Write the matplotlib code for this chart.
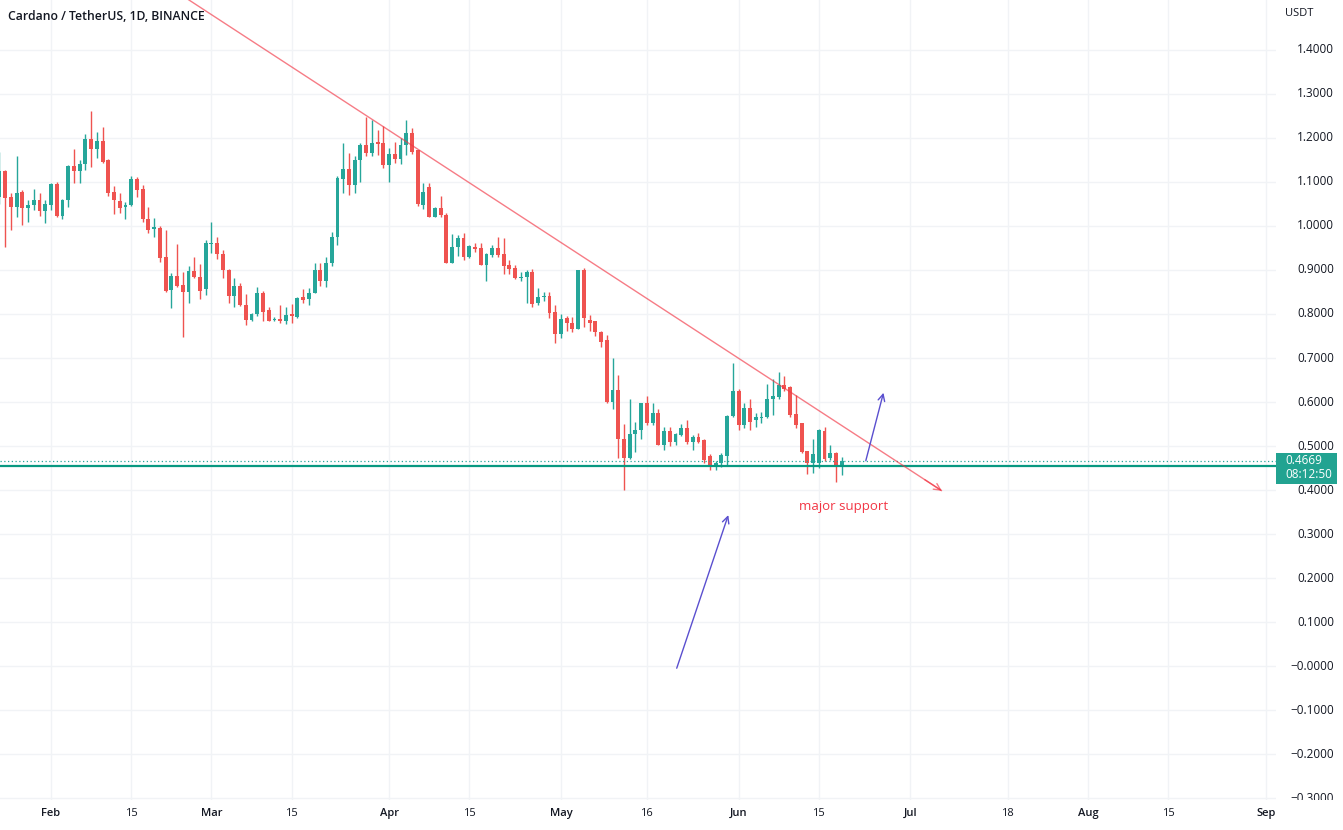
import matplotlib
matplotlib.use("Agg")
import matplotlib.pyplot as plt
import matplotlib.dates as mdates
from matplotlib.patches import Rectangle
from matplotlib.transforms import Bbox, TransformedBbox
import numpy as np
import pandas as pd

plt.rcParams['font.family'] = ['Open Sans', 'DejaVu Sans']

# ---------------- data (ADA/USDT daily) ----------------
start_date = "2022-01-23"
end_date = "2022-06-19"

opens = [
    # Jan 23-31
    1.067, 1.124, 1.067, 1.043, 1.078, 1.040, 1.048, 1.059, 1.033,
    # Feb
    1.048, 1.095, 1.023, 1.058, 1.136, 1.124, 1.141, 1.197, 1.174, 1.193,
    1.150, 1.078, 1.057, 1.043, 1.048, 1.106, 1.083, 1.017, 0.994, 0.996,
    0.930, 0.855, 0.886, 0.866, 0.849, 0.898, 0.883, 0.856,
    # Mar
    0.959, 0.962, 0.936, 0.900, 0.841, 0.864, 0.820, 0.786, 0.799, 0.848,
    0.810, 0.786, 0.788, 0.785, 0.801, 0.794, 0.839, 0.833, 0.848, 0.900,
    0.874, 0.915, 0.974, 1.106, 1.129, 1.093, 1.150, 1.184, 1.167, 1.191, 1.188,
    # Apr
    1.139, 1.164, 1.152, 1.184, 1.211, 1.172, 1.048, 1.088, 1.021, 1.042,
    1.025, 0.917, 0.952, 0.972, 0.930, 0.953, 0.949, 0.911, 0.934, 0.949,
    0.936, 0.911, 0.904, 0.882, 0.884, 0.896, 0.824, 0.838, 0.841, 0.805,
    # May
    0.755, 0.790, 0.780, 0.767, 0.899, 0.786, 0.783, 0.760, 0.741, 0.599,
    0.627, 0.515, 0.472, 0.527, 0.536, 0.597, 0.552, 0.576, 0.502, 0.533,
    0.510, 0.525, 0.540, 0.510, 0.520, 0.514, 0.477, 0.454, 0.461, 0.477, 0.568,
    # Jun 1-19
    0.626, 0.548, 0.586, 0.559, 0.563, 0.565, 0.606, 0.612, 0.639, 0.633,
    0.573, 0.553, 0.489, 0.461, 0.461, 0.535, 0.472, 0.485, 0.455,
]

highs = [
    1.169, 1.127, 1.074, 1.158, 1.082, 1.059, 1.083, 1.074, 1.059,
    1.098, 1.101, 1.061, 1.139, 1.176, 1.150, 1.209, 1.262, 1.213, 1.224,
    1.152, 1.091, 1.074, 1.055, 1.114, 1.112, 1.093, 1.044, 1.019, 1.000,
    0.991, 0.894, 0.959, 0.896, 0.909, 0.929, 0.914, 0.968,
    1.010, 0.976, 0.946, 0.902, 0.881, 0.871, 0.845, 0.802, 0.862, 0.853,
    0.817, 0.794, 0.820, 0.817, 0.823, 0.839, 0.856, 0.858, 0.917, 0.915,
    0.929, 0.987, 1.114, 1.189, 1.165, 1.158, 1.188, 1.247, 1.242, 1.218, 1.227,
    1.177, 1.192, 1.199, 1.242, 1.222, 1.172, 1.098, 1.098, 1.044, 1.068,
    1.030, 0.982, 0.980, 0.983, 0.957, 0.961, 0.962, 0.939, 0.957, 0.974,
    0.972, 0.923, 0.911, 0.896, 0.900, 0.902, 0.858, 0.851, 0.849, 0.820,
    0.800, 0.795, 0.794, 0.899, 0.904, 0.798, 0.785, 0.762, 0.752, 0.699,
    0.661, 0.551, 0.606, 0.555, 0.598, 0.614, 0.597, 0.583, 0.544, 0.543,
    0.530, 0.550, 0.559, 0.525, 0.530, 0.515, 0.482, 0.466, 0.483, 0.570, 0.689,
    0.629, 0.598, 0.606, 0.576, 0.578, 0.642, 0.652, 0.669, 0.658, 0.636,
    0.616, 0.553, 0.489, 0.517, 0.538, 0.544, 0.502, 0.487, 0.474,
]

lows = [
    1.050, 0.953, 0.991, 1.021, 1.002, 1.008, 1.036, 1.023, 1.006,
    1.036, 1.021, 1.017, 1.044, 1.097, 1.097, 1.127, 1.133, 1.154, 1.144,
    1.068, 1.027, 1.029, 1.017, 1.046, 1.067, 1.010, 0.983, 0.974, 0.919,
    0.849, 0.813, 0.862, 0.747, 0.824, 0.881, 0.833, 0.843,
    0.938, 0.926, 0.881, 0.824, 0.817, 0.818, 0.775, 0.783, 0.795, 0.785,
    0.783, 0.785, 0.779, 0.777, 0.780, 0.790, 0.824, 0.820, 0.847, 0.864,
    0.862, 0.909, 0.957, 1.076, 1.070, 1.076, 1.101, 1.158, 1.158, 1.161, 1.131,
    1.101, 1.144, 1.142, 1.161, 1.164, 1.045, 1.038, 1.020, 1.020, 1.021,
    0.915, 0.915, 0.932, 0.923, 0.927, 0.940, 0.911, 0.874, 0.929, 0.929,
    0.891, 0.892, 0.879, 0.876, 0.826, 0.815, 0.821, 0.830, 0.790, 0.735,
    0.745, 0.762, 0.760, 0.765, 0.771, 0.762, 0.749, 0.726, 0.597, 0.583,
    0.472, 0.400, 0.470, 0.487, 0.515, 0.548, 0.548, 0.502, 0.491, 0.500,
    0.502, 0.523, 0.505, 0.491, 0.506, 0.461, 0.446, 0.446, 0.452, 0.455, 0.567,
    0.536, 0.540, 0.536, 0.544, 0.553, 0.563, 0.570, 0.606, 0.626, 0.567,
    0.540, 0.483, 0.436, 0.438, 0.449, 0.467, 0.468, 0.419, 0.434,
]

closes = [
    1.124, 1.063, 1.043, 1.074, 1.040, 1.048, 1.059, 1.033, 1.050,
    1.095, 1.023, 1.059, 1.136, 1.124, 1.142, 1.197, 1.174, 1.193, 1.146,
    1.076, 1.058, 1.040, 1.048, 1.106, 1.082, 1.017, 0.992, 0.997, 0.928,
    0.852, 0.886, 0.864, 0.851, 0.898, 0.883, 0.853, 0.962,
    0.962, 0.936, 0.900, 0.841, 0.864, 0.820, 0.786, 0.799, 0.847, 0.805,
    0.785, 0.788, 0.783, 0.798, 0.795, 0.836, 0.832, 0.848, 0.901, 0.874,
    0.917, 0.974, 1.108, 1.129, 1.093, 1.151, 1.184, 1.167, 1.189, 1.186, 1.139,
    1.164, 1.152, 1.184, 1.211, 1.169, 1.049, 1.078, 1.021, 1.042, 1.024,
    0.917, 0.953, 0.972, 0.929, 0.955, 0.947, 0.911, 0.936, 0.949, 0.934,
    0.908, 0.902, 0.881, 0.884, 0.896, 0.823, 0.838, 0.841, 0.803, 0.755,
    0.788, 0.779, 0.767, 0.899, 0.792, 0.780, 0.758, 0.737, 0.599, 0.627,
    0.517, 0.472, 0.527, 0.536, 0.597, 0.552, 0.576, 0.502, 0.533, 0.510,
    0.527, 0.540, 0.508, 0.521, 0.510, 0.468, 0.455, 0.462, 0.480, 0.568, 0.626,
    0.548, 0.586, 0.555, 0.567, 0.566, 0.606, 0.614, 0.639, 0.629, 0.570,
    0.548, 0.487, 0.461, 0.482, 0.536, 0.470, 0.485, 0.453, 0.4669,
]

last_price = 0.4669
countdown = "08:12:50"
support_level = 0.454

price_ticks = [1.4, 1.3, 1.2, 1.1, 1.0, 0.9, 0.8, 0.7, 0.6, 0.5, 0.4,
               0.3, 0.2, 0.1, 0.0, -0.1, -0.2, -0.3]
price_tick_labels = ["1.4000", "1.3000", "1.2000", "1.1000", "1.0000", "0.9000",
                     "0.8000", "0.7000", "0.6000", "0.5000", "0.4000", "0.3000",
                     "0.2000", "0.1000", "\u22120.0000", "\u22120.1000",
                     "\u22120.2000", "\u22120.3000"]

time_ticks = ["2022-02-01", "2022-02-15", "2022-03-01", "2022-03-15", "2022-04-01",
              "2022-04-15", "2022-05-01", "2022-05-16", "2022-06-01", "2022-06-15",
              "2022-07-01", "2022-07-18", "2022-08-01", "2022-08-15", "2022-09-01"]
time_tick_labels = ["Feb", "15", "Mar", "15", "Apr", "15", "May", "16", "Jun", "15",
                    "Jul", "18", "Aug", "15", "Sep"]

# drawings
trend_a = ("2022-04-11 15:00", 1.127)
trend_b = ("2022-07-06 12:00", 0.398)
arrow1_start = ("2022-05-21 05:00", -0.005)
arrow1_end = ("2022-05-30 05:00", 0.343)
arrow2_start = ("2022-06-23 05:00", 0.4666)
arrow2_end = ("2022-06-26 07:00", 0.621)
note_pos = ("2022-06-11 15:00", 0.3636)
note_text = "major support"
title = "Cardano / TetherUS, 1D, BINANCE"

# ---------------- drawing ----------------
UP = "#26a69a"
DOWN = "#ef5350"
GRID = "#f1f3f6"
TXT = "#131722"

dates = pd.date_range(start_date, end_date, freq="D")
x = mdates.date2num(dates.to_pydatetime())
o = np.array(opens); h = np.array(highs); l = np.array(lows); c = np.array(closes)
assert len(x) == len(o) == len(h) == len(l) == len(c)

W, H = 1343, 830
fig = plt.figure(figsize=(W / 100, H / 100), dpi=100)
fig.patch.set_facecolor("white")
ax = fig.add_axes([0, 30 / H, 1276 / W, 800 / H])
ax.set_facecolor("white")

feb1 = mdates.date2num(pd.Timestamp("2022-02-01").to_pydatetime())
ax.set_xlim(feb1 - 8.90, feb1 + 213.8)
ax.set_ylim(-0.3045, 1.5136)

# grid
tx = mdates.date2num(pd.to_datetime(time_ticks).to_pydatetime())
for t in tx:
    ax.axvline(t, color=GRID, lw=1, zorder=0)
for p in price_ticks:
    ax.axhline(p, color=GRID, lw=1, zorder=0)

# candles
cols = np.where(c >= o, UP, DOWN)
ax.vlines(x, l, h, colors=cols, lw=1, zorder=2)
body_bot = np.minimum(o, c)
body_h = np.maximum(np.abs(c - o), 0.0025)
ax.bar(x, body_h, bottom=body_bot, width=0.68, color=cols, linewidth=0, zorder=3)

# support line and last price line
ax.axhline(support_level, color="#089981", lw=1.6, zorder=4)
ax.axhline(last_price, color=UP, lw=0.9, ls=(0, (1, 2)), zorder=4)

# trend line (clipped) with arrow head
def dn(s):
    return mdates.date2num(pd.Timestamp(s).to_pydatetime())

ta = (dn(trend_a[0]), trend_a[1])
tb = (dn(trend_b[0]), trend_b[1])
slope = (tb[1] - ta[1]) / (tb[0] - ta[0])
x_far = ta[0] - 60
ax.plot([x_far, tb[0]], [ta[1] + slope * (x_far - ta[0]), tb[1]],
        color="#f23645", alpha=0.65, lw=1, zorder=5, solid_capstyle="butt")
ax.annotate("", xy=tb, xytext=(tb[0] - 3, tb[1] - slope * 3),
            arrowprops=dict(arrowstyle="->", color="#f23645", alpha=0.65, lw=1,
                            mutation_scale=12, shrinkA=0, shrinkB=0))

PURPLE = "#5a4fcf"
for s, e in [(arrow1_start, arrow1_end), (arrow2_start, arrow2_end)]:
    ax.annotate("", xy=(dn(e[0]), e[1]), xytext=(dn(s[0]), s[1]),
                arrowprops=dict(arrowstyle="->", color=PURPLE, lw=1,
                                mutation_scale=12, shrinkA=0, shrinkB=0), zorder=6)

ax.text(dn(note_pos[0]), note_pos[1], note_text, color="#f23645", fontsize=9.5,
        ha="left", va="center", zorder=6)

# spines / ticks
for sp in ax.spines.values():
    sp.set_visible(False)
ax.set_yticks([])
ax.set_xticks(tx)
ax.set_xticklabels(time_tick_labels)
ax.tick_params(axis="x", length=0, pad=6, labelsize=8, labelcolor=TXT)
for lab, txt in zip(ax.get_xticklabels(), time_tick_labels):
    if not txt.isdigit():
        lab.set_fontweight("semibold")

# price axis labels
ytr = ax.get_yaxis_transform()
clip = TransformedBbox(Bbox([[12.76, 0.30], [13.43, 8.30]]), fig.dpi_scale_trans)
for p, s in zip(price_ticks, price_tick_labels):
    t = ax.text(1334 / 1276, p, s, transform=ytr, ha="right", va="center",
                fontsize=8.5, color=TXT, clip_on=True)
    t.set_clip_box(clip)

fig.text(1285 / W, 1 - 13 / H, "USDT", ha="left", va="center", fontsize=8, color=TXT)

# last price box
box_top = last_price + 7.6 / 440
box_bot = last_price - 23.4 / 440
ax.add_patch(Rectangle((1.0, box_bot), 61 / 1276, box_top - box_bot, transform=ytr,
                       facecolor="#22a391", edgecolor="none", clip_on=False, zorder=10))
ax.text(1285 / 1276, last_price, f"{last_price:.4f}", transform=ytr, ha="left",
        va="center", fontsize=8.5, color="white", zorder=11, clip_on=False)
ax.text(1285 / 1276, last_price - 14.4 / 440, countdown, transform=ytr, ha="left",
        va="center", fontsize=8.5, color="white", zorder=11, clip_on=False)

fig.text(8 / W, 1 - 16 / H, title, ha="left", va="center", fontsize=8.8,
         fontweight="semibold", color=TXT)

fig.savefig("out.png", dpi=100, facecolor="white")
